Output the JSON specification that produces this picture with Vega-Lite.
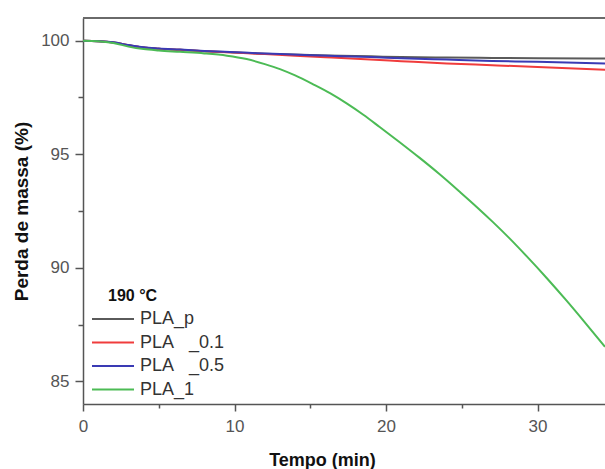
{
  "$schema": "https://vega.github.io/schema/vega-lite/v6.json",
  "width": 522,
  "height": 386,
  "autosize": {"type": "none"},
  "padding": {"left": 83, "top": 18, "right": 0, "bottom": 65},
  "background": "white",
  "config": {
    "view": {"stroke": null},
    "font": "Liberation Sans",
    "axis": {"labelFont": "Liberation Sans", "titleFont": "Liberation Sans"},
    "legend": {"labelFont": "Liberation Sans", "titleFont": "Liberation Sans"}
  },
  "datasets": {
    "curves": [
      {"t": 0, "v": 100, "s": "PLA_p"}, {"t": 1, "v": 99.98, "s": "PLA_p"}, {"t": 2, "v": 99.92, "s": "PLA_p"}, {"t": 3, "v": 99.8, "s": "PLA_p"}, {"t": 4, "v": 99.7, "s": "PLA_p"}, {"t": 5, "v": 99.65, "s": "PLA_p"}, {"t": 6.4, "v": 99.6, "s": "PLA_p"}, {"t": 8, "v": 99.54, "s": "PLA_p"}, {"t": 9.7, "v": 99.49, "s": "PLA_p"}, {"t": 11.5, "v": 99.44, "s": "PLA_p"}, {"t": 13, "v": 99.41, "s": "PLA_p"}, {"t": 15, "v": 99.37, "s": "PLA_p"}, {"t": 17, "v": 99.34, "s": "PLA_p"}, {"t": 19, "v": 99.31, "s": "PLA_p"}, {"t": 21, "v": 99.28, "s": "PLA_p"}, {"t": 24, "v": 99.26, "s": "PLA_p"}, {"t": 27, "v": 99.24, "s": "PLA_p"}, {"t": 30, "v": 99.23, "s": "PLA_p"}, {"t": 34.45, "v": 99.22, "s": "PLA_p"},
      {"t": 0, "v": 100, "s": "PLA\u00a0\u00a0\u00a0_0.1"}, {"t": 1, "v": 99.98, "s": "PLA\u00a0\u00a0\u00a0_0.1"}, {"t": 2, "v": 99.92, "s": "PLA\u00a0\u00a0\u00a0_0.1"}, {"t": 3, "v": 99.8, "s": "PLA\u00a0\u00a0\u00a0_0.1"}, {"t": 4, "v": 99.7, "s": "PLA\u00a0\u00a0\u00a0_0.1"}, {"t": 5, "v": 99.65, "s": "PLA\u00a0\u00a0\u00a0_0.1"}, {"t": 6.4, "v": 99.6, "s": "PLA\u00a0\u00a0\u00a0_0.1"}, {"t": 8, "v": 99.54, "s": "PLA\u00a0\u00a0\u00a0_0.1"}, {"t": 10, "v": 99.48, "s": "PLA\u00a0\u00a0\u00a0_0.1"}, {"t": 12, "v": 99.41, "s": "PLA\u00a0\u00a0\u00a0_0.1"}, {"t": 14, "v": 99.34, "s": "PLA\u00a0\u00a0\u00a0_0.1"}, {"t": 16, "v": 99.27, "s": "PLA\u00a0\u00a0\u00a0_0.1"}, {"t": 18, "v": 99.2, "s": "PLA\u00a0\u00a0\u00a0_0.1"}, {"t": 21, "v": 99.1, "s": "PLA\u00a0\u00a0\u00a0_0.1"}, {"t": 24, "v": 99.0, "s": "PLA\u00a0\u00a0\u00a0_0.1"}, {"t": 27, "v": 98.92, "s": "PLA\u00a0\u00a0\u00a0_0.1"}, {"t": 30, "v": 98.84, "s": "PLA\u00a0\u00a0\u00a0_0.1"}, {"t": 34.45, "v": 98.72, "s": "PLA\u00a0\u00a0\u00a0_0.1"},
      {"t": 0, "v": 100, "s": "PLA\u00a0\u00a0\u00a0_0.5"}, {"t": 1, "v": 99.98, "s": "PLA\u00a0\u00a0\u00a0_0.5"}, {"t": 2, "v": 99.93, "s": "PLA\u00a0\u00a0\u00a0_0.5"}, {"t": 3, "v": 99.81, "s": "PLA\u00a0\u00a0\u00a0_0.5"}, {"t": 4, "v": 99.71, "s": "PLA\u00a0\u00a0\u00a0_0.5"}, {"t": 5, "v": 99.66, "s": "PLA\u00a0\u00a0\u00a0_0.5"}, {"t": 6.4, "v": 99.61, "s": "PLA\u00a0\u00a0\u00a0_0.5"}, {"t": 8, "v": 99.55, "s": "PLA\u00a0\u00a0\u00a0_0.5"}, {"t": 9.7, "v": 99.5, "s": "PLA\u00a0\u00a0\u00a0_0.5"}, {"t": 11.5, "v": 99.45, "s": "PLA\u00a0\u00a0\u00a0_0.5"}, {"t": 13, "v": 99.41, "s": "PLA\u00a0\u00a0\u00a0_0.5"}, {"t": 15, "v": 99.36, "s": "PLA\u00a0\u00a0\u00a0_0.5"}, {"t": 17, "v": 99.32, "s": "PLA\u00a0\u00a0\u00a0_0.5"}, {"t": 19, "v": 99.28, "s": "PLA\u00a0\u00a0\u00a0_0.5"}, {"t": 21, "v": 99.23, "s": "PLA\u00a0\u00a0\u00a0_0.5"}, {"t": 24, "v": 99.17, "s": "PLA\u00a0\u00a0\u00a0_0.5"}, {"t": 27, "v": 99.11, "s": "PLA\u00a0\u00a0\u00a0_0.5"}, {"t": 30, "v": 99.07, "s": "PLA\u00a0\u00a0\u00a0_0.5"}, {"t": 34.45, "v": 99.0, "s": "PLA\u00a0\u00a0\u00a0_0.5"},
      {"t": 0, "v": 100, "s": "PLA_1"}, {"t": 1, "v": 99.98, "s": "PLA_1"}, {"t": 2, "v": 99.9, "s": "PLA_1"}, {"t": 3, "v": 99.74, "s": "PLA_1"}, {"t": 4, "v": 99.63, "s": "PLA_1"}, {"t": 5, "v": 99.57, "s": "PLA_1"}, {"t": 6.4, "v": 99.51, "s": "PLA_1"}, {"t": 8, "v": 99.44, "s": "PLA_1"}, {"t": 9.5, "v": 99.34, "s": "PLA_1"}, {"t": 10.8, "v": 99.19, "s": "PLA_1"}, {"t": 12, "v": 98.97, "s": "PLA_1"}, {"t": 13, "v": 98.75, "s": "PLA_1"}, {"t": 14, "v": 98.47, "s": "PLA_1"}, {"t": 15.16, "v": 98.09, "s": "PLA_1"}, {"t": 16.3, "v": 97.69, "s": "PLA_1"}, {"t": 17.4, "v": 97.24, "s": "PLA_1"}, {"t": 18.5, "v": 96.74, "s": "PLA_1"}, {"t": 19.58, "v": 96.2, "s": "PLA_1"}, {"t": 20.9, "v": 95.53, "s": "PLA_1"}, {"t": 22.2, "v": 94.85, "s": "PLA_1"}, {"t": 23.5, "v": 94.14, "s": "PLA_1"}, {"t": 24.86, "v": 93.35, "s": "PLA_1"}, {"t": 26, "v": 92.67, "s": "PLA_1"}, {"t": 27.04, "v": 92.02, "s": "PLA_1"}, {"t": 28.2, "v": 91.26, "s": "PLA_1"}, {"t": 29.29, "v": 90.5, "s": "PLA_1"}, {"t": 30.6, "v": 89.55, "s": "PLA_1"}, {"t": 31.9, "v": 88.56, "s": "PLA_1"}, {"t": 33.2, "v": 87.53, "s": "PLA_1"}, {"t": 34.45, "v": 86.52, "s": "PLA_1"}
    ],
    "frame": [{"top": 101}]
  },
  "layer": [
    {
      "data": {"name": "curves"},
      "mark": {"type": "line", "strokeWidth": 2, "interpolate": "monotone"},
      "encoding": {
        "x": {
          "field": "t", "type": "quantitative",
          "scale": {"domain": [0, 34.45], "nice": false, "zero": false},
          "axis": {
            "title": "Tempo (min)",
            "values": [0, 5, 10, 15, 20, 25, 30],
            "labelExpr": "datum.value % 10 === 0 ? datum.label : ''",
            "labelFlush": false,
            "grid": false,
            "domainColor": "#555555", "domainWidth": 1.5,
            "tickColor": "#555555", "tickWidth": 1.5,
            "tickSize": {"condition": {"test": "datum.value % 10 !== 0", "value": 4}, "value": 7},
            "labelFontSize": 17, "labelColor": "#555555", "labelPadding": 7,
            "titleFontSize": 18, "titleFontWeight": "bold", "titleColor": "#111111",
            "titleX": 239, "titleY": 61, "titleBaseline": "alphabetic", "titleAnchor": "middle"
          }
        },
        "y": {
          "field": "v", "type": "quantitative",
          "scale": {"domain": [84, 101], "nice": false, "zero": false},
          "axis": {
            "title": "Perda de massa (%)",
            "values": [85, 87.5, 90, 92.5, 95, 97.5, 100],
            "labelExpr": "datum.value % 5 === 0 ? datum.label : ''",
            "labelFlush": false,
            "grid": false,
            "domainColor": "#555555", "domainWidth": 1.5,
            "tickColor": "#555555", "tickWidth": 1.5,
            "tickSize": {"condition": {"test": "datum.value % 5 !== 0", "value": 5}, "value": 8},
            "labelFontSize": 17, "labelColor": "#555555", "labelPadding": 6,
            "titleFontSize": 19, "titleFontWeight": "bold", "titleColor": "#111111",
            "titleAngle": -90, "titleX": -62, "titleY": 193, "titleBaseline": "middle", "titleAnchor": "middle"
          }
        },
        "color": {
          "field": "s", "type": "nominal",
          "scale": {
            "domain": ["PLA_p", "PLA\u00a0\u00a0\u00a0_0.1", "PLA\u00a0\u00a0\u00a0_0.5", "PLA_1"],
            "range": ["#5a5a5a", "#f03c3c", "#3a3ab4", "#4cbb55"]
          },
          "legend": {
            "title": "190 °C",
            "orient": "none",
            "legendX": 7,
            "legendY": 270,
            "titleFontSize": 16,
            "titleFontWeight": "bold",
            "titleColor": "#111111",
            "titlePadding": 6,
            "labelFontSize": 18,
            "labelColor": "#333333",
            "labelOffset": 32,
            "symbolType": "M-1,0H5",
            "symbolSize": 196,
            "symbolStrokeWidth": 2,
            "rowPadding": 5.5,
            "padding": 0,
            "encode": {"title": {"update": {"dx": {"value": 18}}}}
          }
        }
      }
    },
    {
      "data": {"name": "frame"},
      "mark": {"type": "rule", "color": "#6a6a6a", "strokeWidth": 2},
      "encoding": {
        "y": {"field": "top", "type": "quantitative"}
      }
    }
  ]
}
